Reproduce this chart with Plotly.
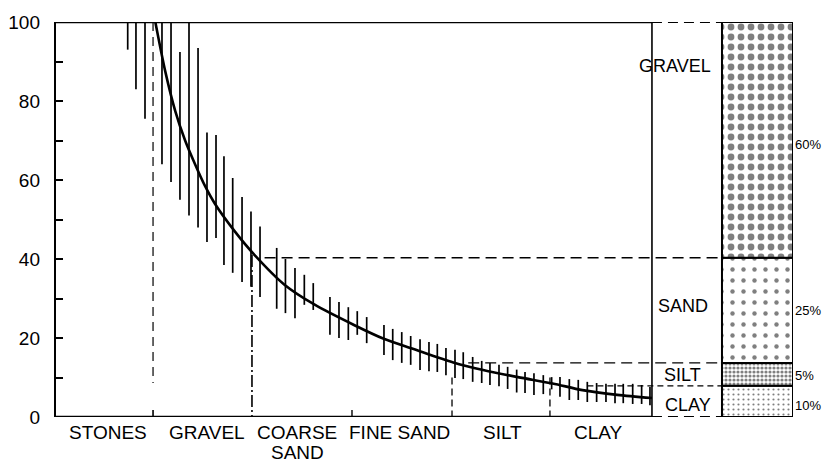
import plotly.graph_objects as go

# ---------------- data ----------------
categories = ["STONES", "GRAVEL", "COARSE<br>SAND", "FINE SAND", "SILT", "CLAY"]
category_label_x = [0.52, 1.52, 2.43, 3.46, 4.5, 5.46]
category_bounds = [1, 2, 3, 4, 5]

curve_x = [1.0, 1.1, 1.2, 1.3, 1.4, 1.5, 1.6, 1.8, 2.0, 2.3, 2.6, 3.0, 3.3, 3.6,
           4.0, 4.3, 4.65, 5.0, 5.3, 5.65, 6.0]
curve_y = [100, 87.5, 77.5, 70, 64, 58.5, 54, 47, 41, 33.5, 28.5, 23.3, 19.8, 17.2,
           13.8, 11.9, 10.1, 8.5, 6.8, 5.6, 4.8]

range_x = [0.722, 0.805, 0.896, 1.067, 1.158, 1.248, 1.339, 1.430, 1.520, 1.611,
           1.691, 1.779, 1.873, 1.963, 2.054, 2.222, 2.310, 2.406, 2.500, 2.590,
           2.758, 2.849, 2.943, 3.033, 3.128, 3.302, 3.390, 3.481, 3.571, 3.665,
           3.755, 3.839, 3.926, 4.017, 4.100, 4.195, 4.286, 4.369, 4.460, 4.547,
           4.638, 4.722, 4.812, 4.906, 4.990, 5.074, 5.168, 5.258, 5.349, 5.443,
           5.537, 5.628, 5.711, 5.806, 5.896, 5.980]
range_hi = [100, 100, 100, 100, 100, 92.4, 100, 93.4, 72, 71.4,
            66, 60.5, 55.7, 52, 48.2, 42.8, 40, 37.7, 36, 33.9,
            30.4, 29.1, 27.8, 26.8, 25.3, 23.3, 22.3, 21.5, 20.5, 19.7,
            19, 18.5, 17.5, 17, 16.4, 15.2, 14.2, 13.7, 13.2, 12.7,
            12.0, 11.4, 11.1, 10.6, 10.1, 10.1, 9.6, 9.4, 8.9, 8.6,
            8.4, 8.4, 8.4, 8.4, 8.1, 7.6]
range_lo = [93, 83, 75.5, 64, 59.5, 55, 51, 48, 44.3, 45.3,
            38.5, 36.5, 34.2, 33, 30.4, 27.4, 26.3, 25, 28.4, 27.1,
            20.8, 20, 19.5, 20.8, 18.7, 15.7, 14.4, 13.7, 13.2, 11.9,
            11.6, 11.4, 10.6, 9.9, 9.6, 8.9, 8.6, 8.1, 7.8, 7.1,
            6.2, 6.1, 5.6, 5.8, 7.0, 5.1, 4.3, 4.3, 3.8, 3.8,
            3.8, 3.5, 3.5, 3.3, 3.3, 3.0]

# composition column (bottom to top)
comp_names = ["CLAY", "SILT", "SAND", "GRAVEL"]
comp_bounds = [0, 7.9, 13.7, 40.3, 100]
comp_pct = ["10%", "5%", "25%", "60%"]
comp_name_x = [6.36, 6.31, 6.31, 6.23]
comp_name_y = [3.0, 10.6, 28.2, 88.9]
comp_pct_y = [3.0, 10.6, 27.0, 68.9]

y_ticks = [0, 10, 20, 30, 40, 50, 60, 70, 80, 90, 100]
y_ticktext = ["0", "", "20", "", "40", "", "60", "", "80", "", "100"]

# ---------------- layout helpers ----------------
X_MAX = 7.42          # whole drawing width in grain-size units
PLOT_END = 6.0        # right edge of the curve panel
COL_X = 7.0625        # composition column centre
COL_W = 0.715
LBL_END = COL_X - COL_W / 2
FONT = "Liberation Sans, Arial, Helvetica, sans-serif"
PAGE_PAD = 8          # browser default body margin

fig = go.Figure()

# vertical range lines
vx, vy = [], []
for x, hi, lo in zip(range_x, range_hi, range_lo):
    vx += [x, x, None]
    vy += [lo, hi, None]
fig.add_trace(go.Scatter(x=vx, y=vy, mode="lines",
                         line=dict(color="black", width=1.7),
                         hoverinfo="skip", showlegend=False))

# mean curve
fig.add_trace(go.Scatter(x=curve_x, y=curve_y, mode="lines",
                         line=dict(color="black", width=2.6, shape="spline", smoothing=0.8),
                         showlegend=False))

# composition column with dot patterns
patterns = [
    dict(shape=".", size=5, solidity=0.15, fgcolor="black", bgcolor="white"),   # clay
    dict(shape=".", size=4, solidity=0.5, fgcolor="black", bgcolor="white"),    # silt
    dict(shape=".", size=11, solidity=0.13, fgcolor="black", bgcolor="white"),  # sand
    dict(shape=".", size=10, solidity=0.36, fgcolor="black", bgcolor="white"),  # gravel
]
for i, name in enumerate(comp_names):
    fig.add_trace(go.Bar(x=[COL_X], y=[comp_bounds[i + 1] - comp_bounds[i]],
                         base=[comp_bounds[i]], width=[COL_W], name=name,
                         marker=dict(color="white", pattern=patterns[i],
                                     line=dict(color="black", width=2)),
                         showlegend=False, hoverinfo="skip"))

shapes = []
def line(x0, y0, x1, y1, w=1.5, dash="solid"):
    shapes.append(dict(type="line", xref="x", yref="y", x0=x0, y0=y0, x1=x1, y1=y1,
                       line=dict(color="black", width=w, dash=dash)))

# frame of curve panel
line(0, 100, PLOT_END, 100, 2.6)
line(0, 0, PLOT_END, 0, 2.4)
line(PLOT_END, 0, PLOT_END, 100, 1.6)
# dashed extensions to column
line(PLOT_END, 100, LBL_END, 100, 2, "10px,6px")
line(PLOT_END, 0, LBL_END, 0, 2, "10px,6px")
line(2.1, comp_bounds[3], LBL_END, comp_bounds[3], 1.6, "11px,6px")
line(4.15, comp_bounds[2], LBL_END, comp_bounds[2], 1.4, "11px,6px")
line(5.35, comp_bounds[1], LBL_END, comp_bounds[1], 1.3, "6px,4px")
# category boundary markers
line(category_bounds[0] - 0.023, 100, category_bounds[0] - 0.023, 8.6, 1.2, "9px,6px")
line(category_bounds[1] - 0.027, curve_y[8], category_bounds[1] - 0.027, 0, 1.6, "12px,3px,2px,3px")
line(category_bounds[2] - 0.02, 0, category_bounds[2] - 0.02, 1.8, 1.4)
line(category_bounds[3] - 0.013, 10, category_bounds[3] - 0.013, 0, 1.3, "7px,4px")
line(category_bounds[4] - 0.027, 10, category_bounds[4] - 0.027, 0, 1.3, "7px,4px")
line(category_bounds[0] - 0.023, 0, category_bounds[0] - 0.023, 1.8, 1.6)

annotations = []
for lab, x in zip(categories, category_label_x):
    for k, part in enumerate(lab.split("<br>")):
        annotations.append(dict(x=x, y=0, xref="x", yref="y", text=part, showarrow=False,
                                yanchor="top", yshift=-3 - 20 * k, xanchor="center",
                                font=dict(family=FONT, size=19, color="black")))
for name, nx, ny, pct, py in zip(comp_names, comp_name_x, comp_name_y, comp_pct, comp_pct_y):
    annotations.append(dict(x=nx, y=ny, xref="x", yref="y", text=name,
                            showarrow=False, xanchor="center", yanchor="middle",
                            font=dict(family=FONT, size=18, color="black")))
    annotations.append(dict(x=1.0, y=py, xref="paper", yref="y", text=pct,
                            showarrow=False, xanchor="left", yanchor="middle", xshift=0,
                            font=dict(family=FONT, size=13, color="black")))

fig.update_layout(
    width=830 - PAGE_PAD, height=462 - PAGE_PAD,
    margin=dict(l=56 - PAGE_PAD, r=37, t=22 - PAGE_PAD, b=45, autoexpand=False),
    paper_bgcolor="white", plot_bgcolor="white",
    barmode="overlay",
    shapes=shapes, annotations=annotations,
    xaxis=dict(range=[0, X_MAX], showgrid=False, zeroline=False, showline=False,
               showticklabels=False, ticks="", automargin=False),
    yaxis=dict(range=[0, 100], showgrid=False, zeroline=False, showline=True,
               linecolor="black", linewidth=2.4, ticks="inside", ticklen=7,
               tickwidth=1.5, tickcolor="black", tickvals=y_ticks, ticktext=y_ticktext,
               ticklabelstandoff=10, automargin=False,
               tickfont=dict(family=FONT, size=19, color="black")),
)

fig.write_html("out.html")
